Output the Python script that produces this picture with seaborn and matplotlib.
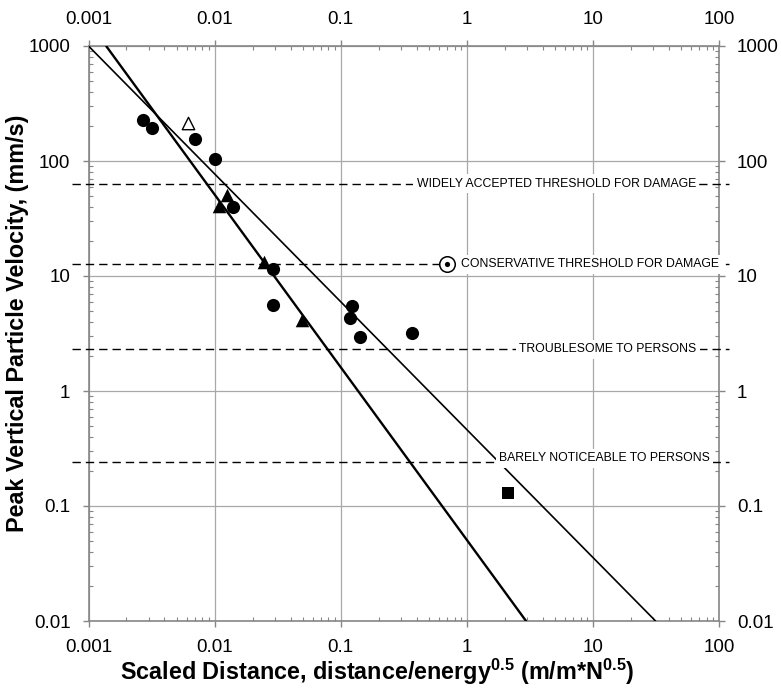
import numpy as np
import matplotlib
matplotlib.use("Agg")
import matplotlib.pyplot as plt
import matplotlib.transforms as mtransforms
from matplotlib.ticker import FixedLocator, FixedFormatter, LogLocator, NullFormatter
import seaborn as sns

# Measured peak particle velocities against scaled distance
circle_sd = [0.0027, 0.0032, 0.0070, 0.0100, 0.0141, 0.0288, 0.0290, 0.1236, 0.119, 0.143, 0.367]
circle_ppv = [227, 195, 155, 105, 40, 11.4, 5.6, 5.5, 4.3, 2.93, 3.18]
tri_sd = [0.01256, 0.01078, 0.0245, 0.0493]
tri_ppv = [50.6, 41, 13.2, 4.14]
open_tri_sd = [0.0061]
open_tri_ppv = [215]
square_sd = [2.13]
square_ppv = [0.131]
ref_sd = [0.695]
ref_ppv = [12.7]

# Attenuation fits, given by their end points
upper_fit_sd = [0.001, 31.4]
upper_fit_ppv = [1000, 0.01]
lower_fit_sd = [0.00138, 2.95]
lower_fit_ppv = [1000, 0.01]

# Response thresholds
threshold_ppv = [63.5, 12.7, 2.3, 0.24]
threshold_text = [
    "WIDELY ACCEPTED THRESHOLD FOR DAMAGE",
    "CONSERVATIVE THRESHOLD FOR DAMAGE",
    "TROUBLESOME TO PERSONS",
    "BARELY NOTICEABLE TO PERSONS",
]

x_ticks = [0.001, 0.01, 0.1, 1, 10, 100]
x_tick_labels = ["0.001", "0.01", "0.1", "1", "10", "100"]
y_ticks = [0.01, 0.1, 1, 10, 100, 1000]
y_tick_labels = ["0.01", "0.1", "1", "10", "100", "1000"]

sns.set_theme(style="white")
plt.rcParams["font.family"] = ["Liberation Sans", "DejaVu Sans"]
plt.rcParams["text.color"] = "black"
plt.rcParams["mathtext.fontset"] = "custom"
plt.rcParams["mathtext.rm"] = "Liberation Sans"
plt.rcParams["mathtext.bf"] = "Liberation Sans:bold"
plt.rcParams["lines.scale_dashes"] = False

W, H = 782, 693
fig = plt.figure(figsize=(W / 100, H / 100), dpi=100)
ax_l, ax_r, ax_t, ax_b = 88.5, 719, 46, 621
ax = fig.add_axes([ax_l / W, 1 - ax_b / H, (ax_r - ax_l) / W, (ax_b - ax_t) / H])

ax.set_xscale("log")
ax.set_yscale("log")
ax.set_xlim(0.001, 100)
ax.set_ylim(0.01, 1000)

spine_col = "#868686"
ax.set_axisbelow(True)
ax.grid(which="major", color="#a8a8a8", lw=0.9)
for s in ax.spines.values():
    s.set_color(spine_col)
    s.set_linewidth(1.2)

# fitted lines
sns.lineplot(x=upper_fit_sd, y=upper_fit_ppv, ax=ax, color="black", lw=1.2,
             sort=False, estimator=None, zorder=3)
sns.lineplot(x=lower_fit_sd, y=lower_fit_ppv, ax=ax, color="black", lw=1.7,
             sort=False, estimator=None, zorder=3)

# threshold lines running past both spines
blend = mtransforms.blended_transform_factory(ax.transAxes, ax.transData)
for v in threshold_ppv:
    ax.plot([-0.026, 1.016], [v, v], transform=blend, clip_on=False,
            color="black", lw=1.0, dashes=(6, 3.6), zorder=2.8)

text_right = [0.9635, 1.0, 0.9646, 0.9857]
text_dy = [0, 0, 0, 3]
for v, t, xr, dy in zip(threshold_ppv, threshold_text, text_right, text_dy):
    tr = blend + mtransforms.ScaledTranslation(0, dy / 72, fig.dpi_scale_trans)
    ax.text(xr, v, t, transform=tr, ha="right", va="center", fontsize=8.85,
            color="black", clip_on=False, zorder=6,
            bbox=dict(facecolor="white", edgecolor="none", pad=2.5))

# data markers
sns.scatterplot(x=circle_sd, y=circle_ppv, ax=ax, marker="o", s=90,
                color="black", linewidth=0, zorder=4)
sns.scatterplot(x=tri_sd, y=tri_ppv, ax=ax, marker="^", s=95,
                color="black", linewidth=0, zorder=4)
sns.scatterplot(x=open_tri_sd, y=open_tri_ppv, ax=ax, marker="^", s=80,
                facecolor="white", edgecolor="black", linewidth=1.0, zorder=4)
sns.scatterplot(x=square_sd, y=square_ppv, ax=ax, marker="s", s=80,
                color="black", linewidth=0, zorder=4)
sns.scatterplot(x=ref_sd, y=ref_ppv, ax=ax, marker="o", s=125,
                facecolor="white", edgecolor="black", linewidth=1.1, zorder=7)
sns.scatterplot(x=ref_sd, y=ref_ppv, ax=ax, marker="o", s=14,
                color="black", linewidth=0, zorder=8)

# ticks on all four sides
ax.xaxis.set_major_locator(FixedLocator(x_ticks))
ax.xaxis.set_major_formatter(FixedFormatter(x_tick_labels))
ax.yaxis.set_major_locator(FixedLocator(y_ticks))
ax.yaxis.set_major_formatter(FixedFormatter(y_tick_labels))
ax.xaxis.set_minor_locator(LogLocator(base=10, subs=np.arange(2, 10)))
ax.yaxis.set_minor_locator(LogLocator(base=10, subs=np.arange(2, 10)))
ax.xaxis.set_minor_formatter(NullFormatter())
ax.yaxis.set_minor_formatter(NullFormatter())
ax.tick_params(which="major", direction="out", length=4, width=1.0, color=spine_col,
               pad=9, labelsize=13.5, labelcolor="black",
               top=True, right=True, bottom=True, left=True,
               labeltop=True, labelright=True, labelbottom=True, labelleft=True)
ax.tick_params(which="minor", direction="in", length=3, width=0.8, color=spine_col,
               top=True, right=True, bottom=True, left=True)

ax.set_xlabel("")
ax.set_ylabel("")
fig.text(377.5 / W, 1 - 672 / H,
         r"Scaled Distance, distance/energy$^{\mathbf{0.5}}$ (m/m*N$^{\mathbf{0.5}}$)",
         ha="center", va="center", fontsize=16.8, fontweight="bold", color="black")
fig.text(18 / W, 1 - 323 / H, "Peak Vertical Particle Velocity, (mm/s)",
         ha="center", va="center", rotation=90, fontsize=16.8, fontweight="bold",
         color="black")

fig.savefig("out.png", dpi=100)
